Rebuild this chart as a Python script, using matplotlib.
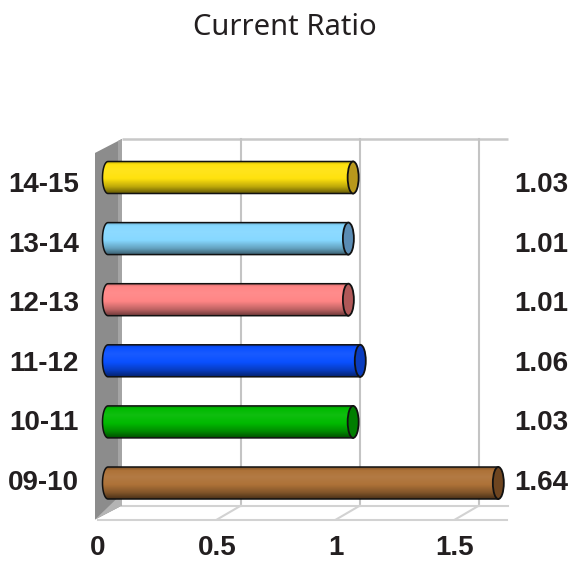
import numpy as np
import matplotlib
matplotlib.use("Agg")
import matplotlib.pyplot as plt
import matplotlib.colors as mcolors
from matplotlib.patches import Polygon, Ellipse

# ---- data ----
title = "Current Ratio"
periods = ["09-10", "10-11", "11-12", "12-13", "13-14", "14-15"]
ratios = [1.64, 1.03, 1.06, 1.01, 1.01, 1.03]
value_labels = ["1.64", "1.03", "1.06", "1.01", "1.01", "1.03"]
bar_colors = ["#AE7238", "#00BA00", "#0A50FF", "#FF8585", "#86D8FF", "#FFE20E"]
cap_colors = ["#6E4520", "#007E00", "#0A3CBE", "#B05858", "#5A8CB4", "#B8981C"]
ticks = [0, 0.5, 1, 1.5]
tick_labels = ["0", "0.5", "1", "1.5"]

# ---- canvas ----
W, H, DPI = 574, 561, 100
fig = plt.figure(figsize=(W / DPI, H / DPI), dpi=DPI)
ax = fig.add_axes([0, 0, 1, 1])
ax.set_axis_off()

PX_UNIT = 238.0      # pixels per ratio unit
X0 = 108.0           # pixel column of ratio 0 (mid depth)
ROW = 61.1           # pixels per category
Y0 = 483.0           # pixel row of first category (from top)

def dx(px):
    return px / PX_UNIT

def dy(px):
    return px / ROW

# depth offsets (data units) for back and front planes
BACK = (dx(14), dy(8))
FRONT = (dx(-10), dy(-6))
Y_FLOOR, Y_TOP = -0.5, 5.5
X_WALL_END = 1.62
X_FLOOR_END = 1.72

def at(x, y, plane):
    return (x + plane[0], y + plane[1])

grid_col = "#C4C4C4"
floor_col = "#D2D2D2"
text_col = "#231F20"

# back wall: top edge and vertical gridlines
ax.plot(*zip(at(0, Y_TOP, BACK), at(X_WALL_END, Y_TOP, BACK)),
        color="#C8C8C8", lw=1.8, solid_capstyle="butt", zorder=1)
for t in ticks[1:]:
    ax.plot(*zip(at(t, Y_FLOOR, BACK), at(t, Y_TOP, BACK)),
            color=grid_col, lw=1.5, zorder=1)

# floor
ax.plot(*zip(at(0, Y_FLOOR, BACK), at(X_WALL_END, Y_FLOOR, BACK)),
        color=floor_col, lw=1.5, zorder=1)
ax.plot(*zip(at(0, Y_FLOOR, FRONT), at(X_FLOOR_END, Y_FLOOR, FRONT)),
        color=floor_col, lw=1.5, zorder=1)
for t in ticks[1:]:
    ax.plot(*zip(at(t, Y_FLOOR, BACK), at(t, Y_FLOOR, FRONT)),
            color=floor_col, lw=1.5, zorder=1)

# left side wall
side = [at(0, Y_FLOOR, FRONT), at(0, Y_TOP, FRONT),
        at(0, Y_TOP, BACK), at(0, Y_FLOOR, BACK)]
side = [(x - dx(3), y) if i < 2 else (x, y) for i, (x, y) in enumerate(side)]
ax.add_patch(Polygon(side, closed=True, facecolor="#8C8C8C", edgecolor="none", zorder=2))
strip = [(side[2][0] - dx(4), side[2][1] - dy(2)), side[2], side[3],
         (side[3][0] - dx(4), side[3][1] + dy(2))]
ax.add_patch(Polygon(strip, closed=True, facecolor="#A4A4A4", edgecolor="none", zorder=2))
shade_tri = [side[3], (side[3][0], side[3][1] + dy(12)), side[0]]
ax.add_patch(Polygon(shade_tri, closed=True, facecolor="#B4B4B4", edgecolor="none", zorder=2))


def shaded(color, n=64):
    """Vertical shading of a cylinder body: dark rim, flat face, dark underside."""
    base = np.array(mcolors.to_rgb(color))
    t = np.linspace(0, 1, n)
    prof = np.interp(t, [0, 0.1, 0.3, 0.55, 0.8, 1.0],
                     [-0.25, 0.0, 0.06, 0.0, -0.25, -0.58])
    p = prof[:, None]
    col = np.where(p > 0, base + (1 - base) * p, base * (1 + p))
    return np.clip(col, 0, 1)[:, None, :].repeat(2, axis=1)


BAR_H = dy(32)
CAP_W = dx(11)

for i, (v, c, cc) in enumerate(zip(ratios, bar_colors, cap_colors)):
    y = i
    a, b = CAP_W / 2, BAR_H / 2
    th = np.linspace(np.pi / 2, 3 * np.pi / 2, 40)
    arc = np.column_stack([a * np.cos(th), y + b * np.sin(th)])
    body = np.vstack([[v, y + b], arc, [v, y - b]])
    outline = Polygon(body, closed=True, facecolor="none", edgecolor="#111111",
                      lw=1.1, zorder=5)
    ax.add_patch(outline)
    im = ax.imshow(shaded(c), extent=(-a, v, y - b, y + b), origin="upper",
                   aspect="auto", interpolation="bilinear", zorder=4)
    im.set_clip_path(outline)
    ax.add_patch(Ellipse((v, y), CAP_W, BAR_H, facecolor=cc, edgecolor="#111111",
                         lw=1.3, zorder=6))

ax.set_xlim(-X0 / PX_UNIT, (W - X0) / PX_UNIT)
ax.set_ylim(-(H - Y0) / ROW, Y0 / ROW)

# ---- text ----
def fy(py):
    return 1 - py / H

fig.text(285 / W, fy(35), title, ha="center", va="baseline",
         fontsize=21, family="Noto Sans", color=text_col)

label_font = dict(fontsize=20, fontweight="bold", family="Liberation Sans", color=text_col)
for i, (p, lab) in enumerate(zip(periods, value_labels)):
    base_py = 489.5 - i * 59.4
    fig.text(79 / W, fy(base_py), p, ha="right", va="baseline", **label_font)
    fig.text(568 / W, fy(base_py), lab, ha="right", va="baseline", **label_font)

for t, lab in zip(ticks, tick_labels):
    x_px = X0 + t * PX_UNIT + FRONT[0] * PX_UNIT
    fig.text(x_px / W, fy(555), lab, ha="center", va="baseline", **label_font)

fig.savefig("out.png", dpi=DPI)
